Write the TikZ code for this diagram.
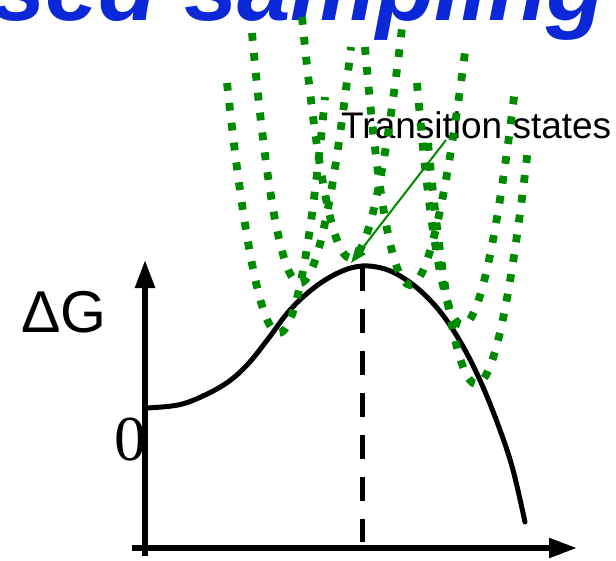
\documentclass[tikz,border=0pt]{standalone}
\usepackage{fontspec}
\setmainfont{Liberation Sans}
\newfontfamily\zerofont{Liberation Serif}
\usetikzlibrary{arrows.meta,calc}
\definecolor{tgreen}{RGB}{0,138,0}
\definecolor{tblue}{RGB}{10,40,215}
\tikzset{
 ucurve/.style={tgreen, line width=7.8pt, dash pattern=on 7.8pt off 12.2pt, line cap=butt},
 axisline/.style={line width=5.5pt, -{Triangle[length=28pt,width=19pt]}},
 energy/.style={line width=5pt, line cap=round},
 tsline/.style={line width=5pt, dash pattern=on 24pt off 18pt},
 pointer/.style={tgreen, line width=2pt, -{Triangle[length=16pt,width=12pt]}},
 lbl/.style={inner sep=0pt, anchor=base west},
}
\begin{document}
\begin{tikzpicture}[x=1pt,y=-1pt]
\useasboundingbox (0,0) rectangle (616,560);
\clip (0,0) rectangle (616,560);
\fill[white] (0,0) rectangle (616,560);
% title (cut off at the top)
\node[lbl, text=tblue, font=\fontsize{96}{96}\selectfont\bfseries\itshape] (title) at (-8,20) {sed sampling};
% axes
\coordinate (yb) at (145,556);
\coordinate (yt) at (145,260);
\coordinate (xl) at (132,548);
\coordinate (xr) at (577,548);
\draw[axisline] (yb) -- (yt);
\draw[axisline] (xl) -- (xr);
% labels
\node[lbl, font=\fontsize{59}{59}\selectfont] (dg) at (21,332) {ΔG};
\node[lbl, font=\zerofont\fontsize{64}{64}\selectfont] (zero) at (114,460) {0};
% free energy curve
\draw[energy] plot[smooth, tension=0.6] coordinates {(146,408) (178,405) (203,396) (228,382) (248,364) (268,339) (290,310) (315,287) (340,272) (362,266) (385,269) (405,279) (425,295) (445,318) (465,350) (483,387) (500,430) (513,470) (525,522)};
% transition state line
\coordinate (tstop) at (362,267);
\coordinate (tsbot) at (362,542);
\draw[tsline] (tstop) -- (tsbot);
% label
\node[lbl, font=\fontsize{37}{37}\selectfont] (tslabel) at (341,138) {Transition states};
% umbrella windows
\foreach \lx/\ly/\bx/\by/\rx/\ry in {227/83/278/333/325/97, 252/33/299/283/351/47, 302/17/350/258/402/28, 365/47/410/285/465/52, 417/83/462/325/515/89, 428/143/476/384/528/148} {
  \draw[ucurve] (\lx,\ly) .. controls ({(4*\bx-\rx)/3},{(4*\by-\ry)/3}) and ({(4*\bx-\lx)/3},{(4*\by-\ly)/3}) .. (\rx,\ry);
}
% pointer
\coordinate (ptail) at (446,140);
\coordinate (ptip) at (351,263);
\draw[pointer] (ptail) -- (ptip);
\end{tikzpicture}
\end{document}
